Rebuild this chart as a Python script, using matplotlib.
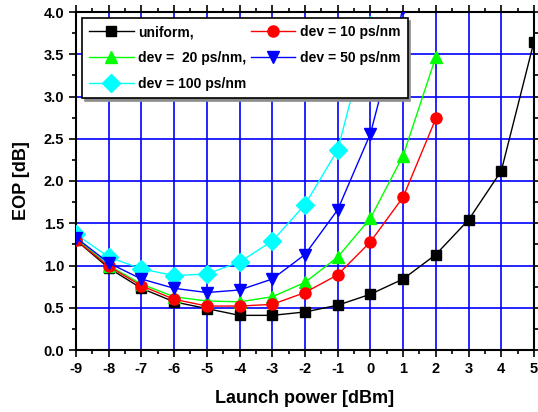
import matplotlib
matplotlib.use("Agg")
import matplotlib.pyplot as plt
from matplotlib.ticker import MultipleLocator

plt.rcParams['font.family'] = ['Liberation Sans', 'DejaVu Sans']
plt.rcParams['font.weight'] = 'bold'
plt.rcParams['axes.unicode_minus'] = False

# launch power [dBm]
power = [-9, -8, -7, -6, -5, -4, -3, -2, -1, 0, 1, 2, 3, 4, 5]

# EOP [dB] per dispersion deviation
eop_uniform = [1.30, 0.97, 0.73, 0.57, 0.49, 0.41, 0.41, 0.45, 0.53, 0.66, 0.84, 1.13, 1.54, 2.12, 3.65]
eop_dev10 = [1.30, 0.99, 0.76, 0.60, 0.52, 0.52, 0.54, 0.68, 0.89, 1.28, 1.81, 2.74]
eop_dev20 = [1.32, 1.00, 0.78, 0.63, 0.58, 0.57, 0.63, 0.80, 1.10, 1.56, 2.30, 3.47]
eop_dev50 = [1.33, 1.03, 0.84, 0.73, 0.68, 0.71, 0.84, 1.13, 1.66, 2.56, 4.05]
eop_dev100 = [1.37, 1.10, 0.96, 0.88, 0.90, 1.04, 1.29, 1.72, 2.37, 3.85]

series = [
    (eop_uniform, "uniform,", "black", "s", 7),
    (eop_dev20, "dev =  20 ps/nm,", "#00ff00", "^", 9),
    (eop_dev100, "dev = 100 ps/nm", "cyan", "D", 9),
    (eop_dev10, "dev = 10 ps/nm", "red", "o", 8),
    (eop_dev50, "dev = 50 ps/nm", "blue", "v", 9),
]

fig = plt.figure(figsize=(5.38, 4.12), dpi=100)
ax = fig.add_axes([76 / 538, 62 / 412, 458 / 538, 338 / 412])

handles = []
for vals, label, color, marker, ms in series:
    h, = ax.plot(power[:len(vals)], vals, color=color, marker=marker, markersize=ms,
                 linewidth=1.0, label=label, zorder=3)
    handles.append(h)

ax.set_xlim(-9, 5)
ax.set_ylim(0, 4)
ax.xaxis.set_major_locator(MultipleLocator(1))
ax.xaxis.set_minor_locator(MultipleLocator(0.5))
ax.yaxis.set_major_locator(MultipleLocator(0.5))
ax.yaxis.set_minor_locator(MultipleLocator(0.25))
ax.grid(True, which='major', color='#0000ff', linewidth=1.2)

ax.tick_params(which='both', direction='out', top=True, right=True, labelsize=10.5, width=1.2)
ax.tick_params(which='major', length=5)
ax.tick_params(which='minor', length=3)
for spine in ax.spines.values():
    spine.set_linewidth(1.5)

ax.set_xlabel("Launch power [dBm]", fontsize=13, fontweight='bold', labelpad=10)
ax.set_ylabel("EOP [dB]", fontsize=13, fontweight='bold', labelpad=10)

# legend on its own overlay axes so it sits above the curves and grid
lax = fig.add_axes(ax.get_position(), zorder=5)
lax.set_axis_off()
lax.patch.set_alpha(0)
leg = lax.legend(handles, [s[1] for s in series], loc='upper left', ncol=2, fontsize=10,
                 frameon=True, fancybox=False, facecolor='white', edgecolor='black',
                 framealpha=1.0, shadow={'color': '0.55', 'alpha': 1.0},
                 borderaxespad=0.45, handlelength=3.2, columnspacing=0.3,
                 handletextpad=0.35, labelspacing=0.85, borderpad=0.5)
leg.get_frame().set_linewidth(1.2)

plt.savefig("out.png", dpi=100)
